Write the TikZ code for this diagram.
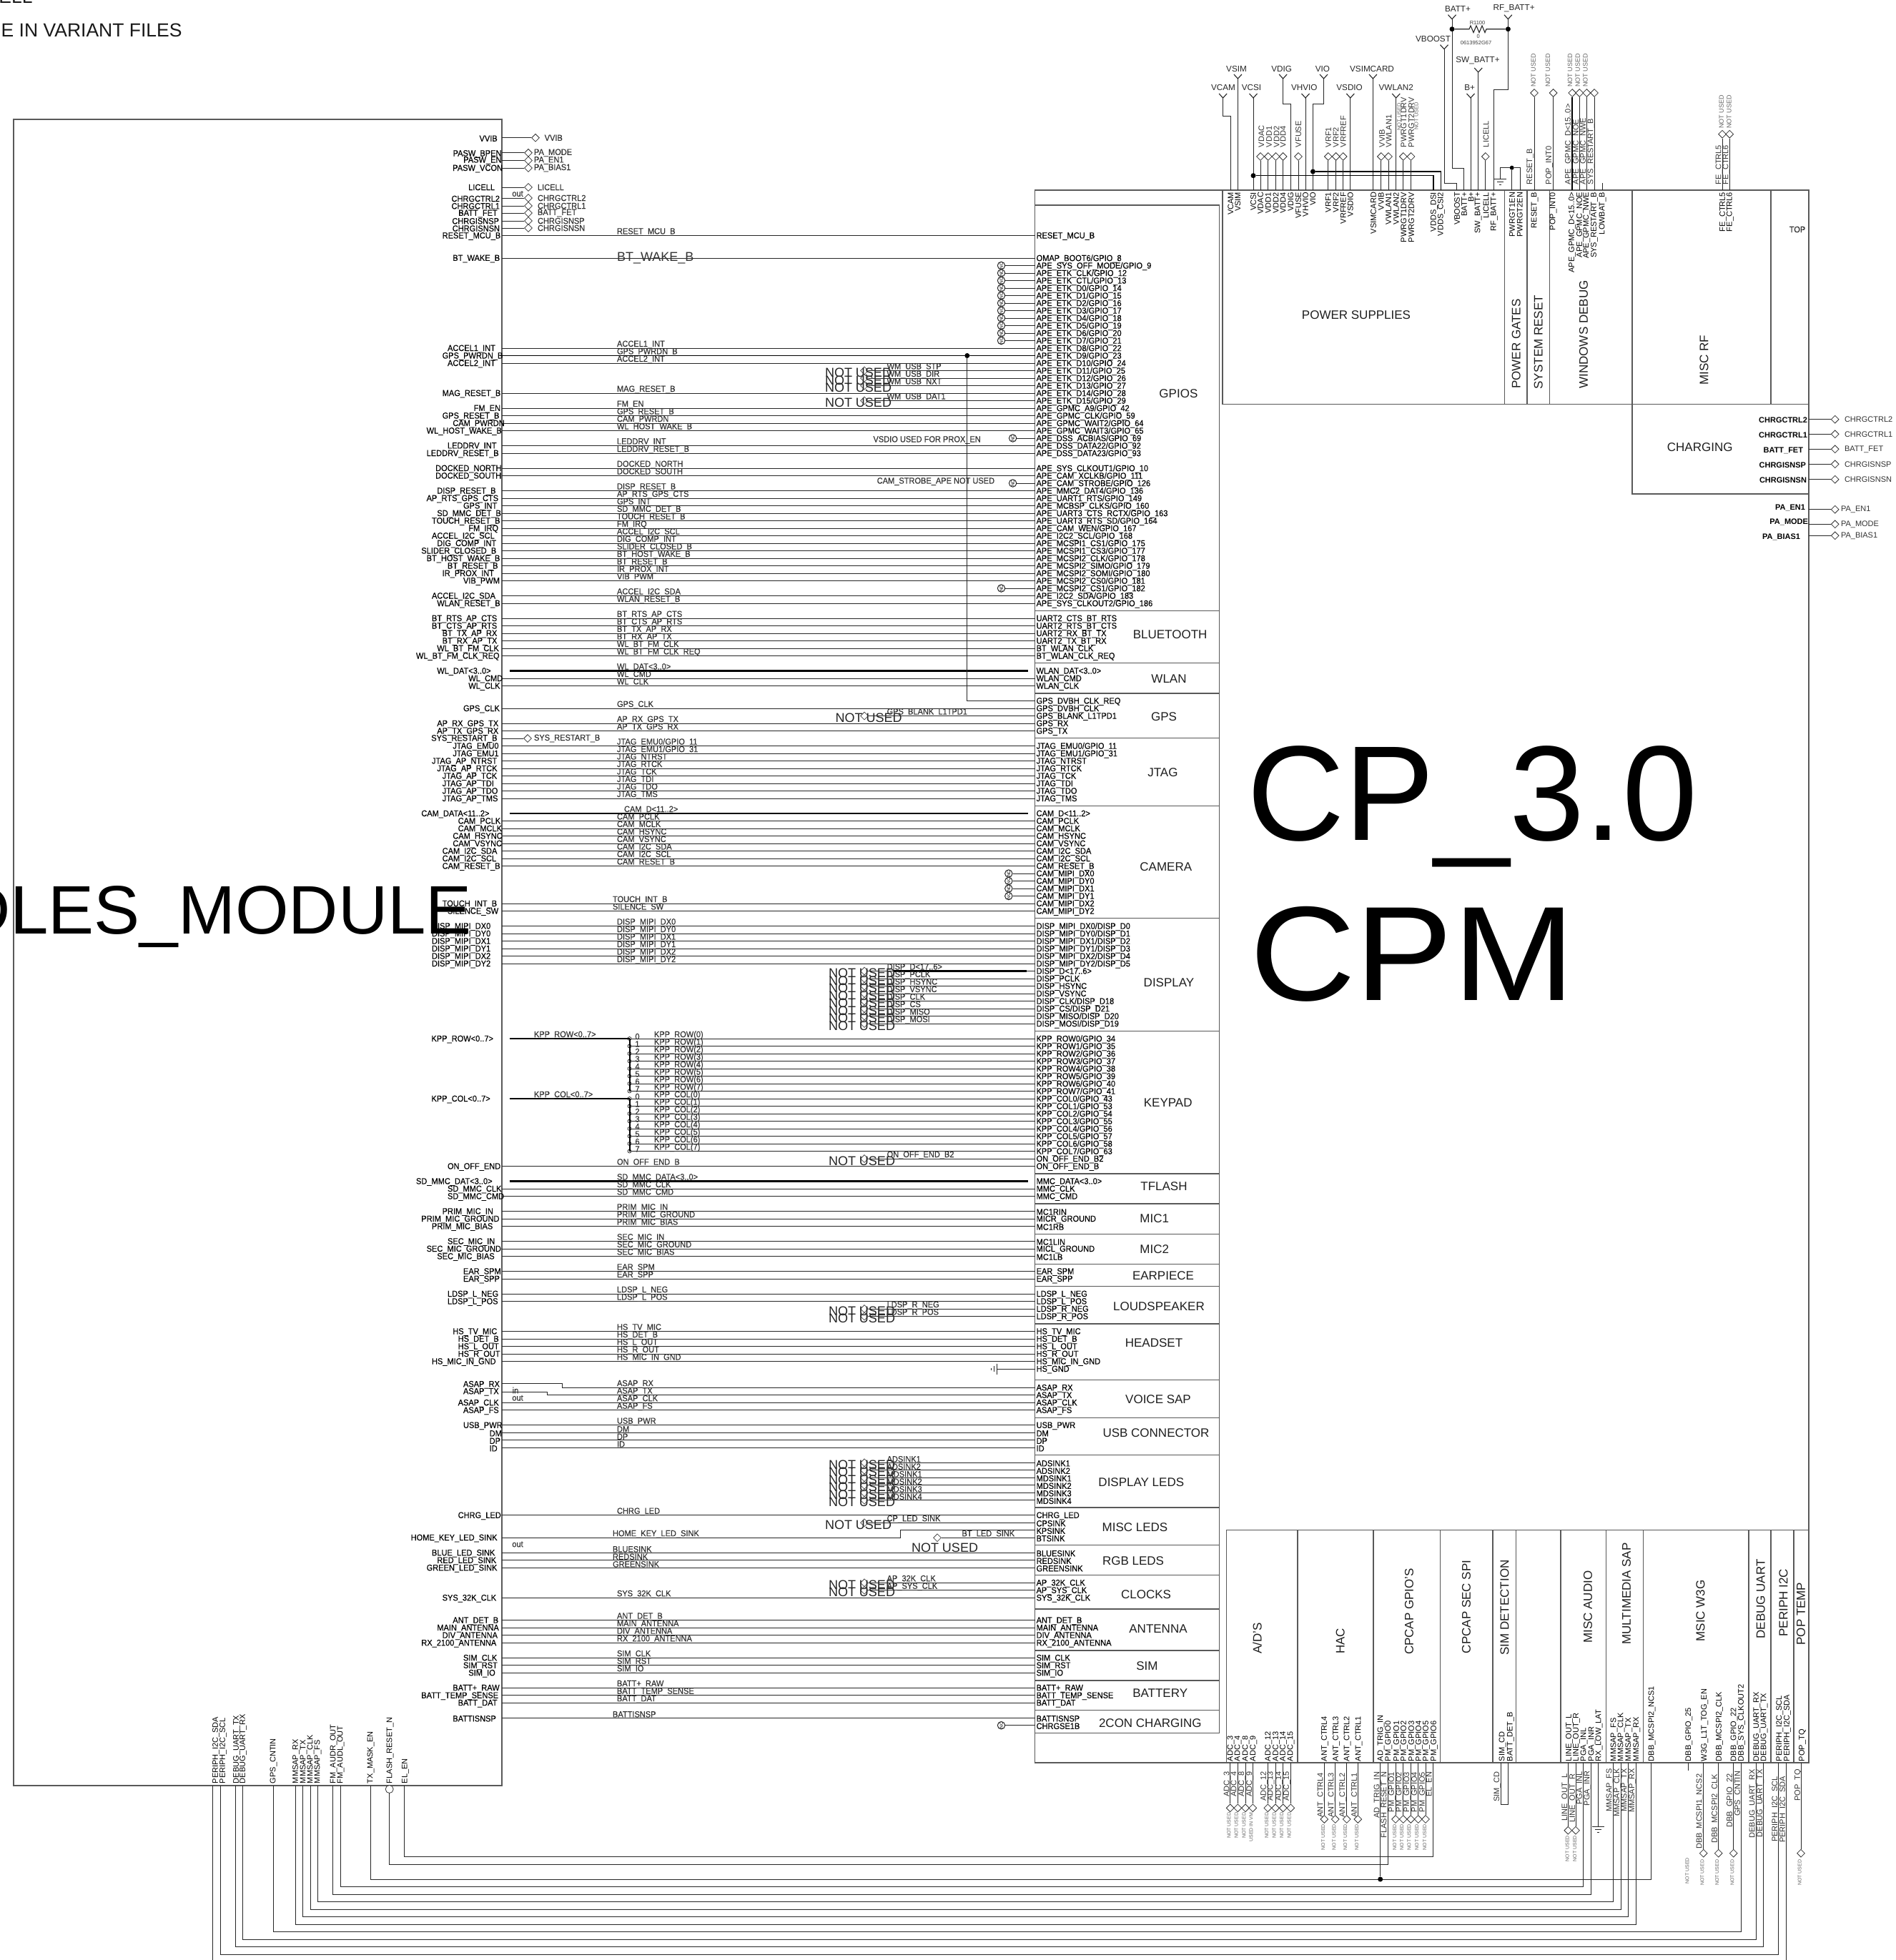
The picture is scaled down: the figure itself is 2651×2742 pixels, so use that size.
\documentclass[tikz,border=0pt]{standalone}
\usepackage{fontspec}
\setmainfont{Liberation Sans}
\newfontfamily\condf[FakeStretch=0.92,FakeBold=0.2]{Liberation Sans}
\usetikzlibrary{shapes.geometric}
\catcode`\_=12
\newcommand{\fsz}[1]{\fontsize{#1}{#1}\selectfont}
\newcount\rowctr
\newcommand{\nxt}{\global\advance\rowctr by 1\relax}
\tikzset{
 lab/.style={inner sep=0pt,outer sep=0pt,font=\condf\fsz{12},text=black},
 nlab/.style={lab,text=black!80},
 tiny/.style={lab,font=\fsz{7},text=black!60},
 nused/.style={lab,font=\fsz{18},text=black!85},
 sect/.style={lab,font=\fsz{17},text=black!88},
 wire/.style={line width=1pt,black!85},
 bus/.style={line width=2.6pt,black},
 box/.style={draw=black!65,line width=1.4pt},
 dia/.style={diamond,draw=black!80,line width=0.8pt,inner sep=0pt,minimum width=11pt,minimum height=11pt,aspect=1},
 ncs/.style={circle,draw=black!85,line width=1pt,inner sep=0pt,minimum size=10pt},
 dot/.style={circle,fill=black,inner sep=0pt,minimum size=7pt},
 kdot/.style={circle,draw=black,line width=0.6pt,inner sep=0pt,minimum size=5pt},
 vsym/.style={line width=1.1pt,black!85}
}
% row: [wire label x]{row}{left zoom x}{left}{wire label}{right}
\newcommand{\Rlab}[2]{\nxt\node[lab,anchor=west] (pr\the\rowctr) at (1449.6,#1+1) {#2};}
\newcommand{\Wr}[6][863]{\nxt
 \pgfmathsetmacro{\myY}{361+10.5*#2}\pgfmathsetmacro{\myX}{560+#3/1.3635}
 \coordinate (wa\the\rowctr) at (701.5,\myY);\coordinate (wb\the\rowctr) at (1447.5,\myY);
 \draw[wire] (wa\the\rowctr) -- (wb\the\rowctr);
 \node[lab,anchor=west] (pl\the\rowctr) at (\myX,\myY+1) {#4};
 \node[nlab,anchor=west] (pw\the\rowctr) at (#1,\myY-5) {#5};
 \Rlab{\myY}{#6}}
\newcommand{\Bu}[6][863]{\nxt
 \pgfmathsetmacro{\myY}{361+10.5*#2}\pgfmathsetmacro{\myX}{560+#3/1.3635}
 \coordinate (wa\the\rowctr) at (712.5,\myY);\coordinate (wb\the\rowctr) at (1438,\myY);
 \draw[bus] (wa\the\rowctr) -- (wb\the\rowctr);
 \node[lab,anchor=west] (pl\the\rowctr) at (\myX,\myY+1) {#4};
 \node[nlab,anchor=west] (pw\the\rowctr) at (#1,\myY-5) {#5};
 \Rlab{\myY}{#6}}
% not used row: [NOT USED x]{row}{wire label}{right}
\newcommand{\NU}[4][1159]{\nxt
 \pgfmathsetmacro{\myY}{361+10.5*#2}
 \node[dia,draw=black!70] (nd\the\rowctr) at (1209,\myY) {};
 \coordinate (wb\the\rowctr) at (1447.5,\myY);
 \draw[wire] (nd\the\rowctr) -- (wb\the\rowctr);
 \node[nused,anchor=west] (nu\the\rowctr) at (#1,\myY+3) {NOT USED};
 \node[nlab,anchor=west] (pw\the\rowctr) at (1240.6,\myY-5) {#3};
 \Rlab{\myY}{#4}}
\newcommand{\NC}[3]{\nxt
 \pgfmathsetmacro{\myY}{361+10.5*#1}
 \node[ncs] (nc\the\rowctr) at (#2,\myY) {\rotatebox{90}{\fsz{6.5}NC}};
 \coordinate (wb\the\rowctr) at (1447.5,\myY);
 \draw[wire] (nc\the\rowctr) -- (wb\the\rowctr);
 \Rlab{\myY}{#3}}
\newcommand{\Kp}[4]{\nxt
 \pgfmathsetmacro{\myY}{361+10.5*#1}
 \node[kdot] (kd\the\rowctr) at (880.5,\myY) {};
 \coordinate (wb\the\rowctr) at (1447.5,\myY);
 \draw[wire] (kd\the\rowctr) -- (wb\the\rowctr);
 \node[nlab,anchor=center] (kn\the\rowctr) at (891.5,\myY-3) {#2};
 \node[nlab,anchor=west] (pw\the\rowctr) at (915,\myY-5) {#3};
 \Rlab{\myY}{#4}}
% left diamond pin {left label right edge}{y label}{y wire}{label}{diamond x}{text x}{text}
\newcommand{\Ld}[7]{\nxt
 \node[lab,anchor=east] (ll\the\rowctr) at (#1,#2) {#4};
 \coordinate (la\the\rowctr) at (701.5,#3);
 \node[dia] (ld\the\rowctr) at (#5,#3) {};
 \draw[wire] (la\the\rowctr) -- (ld\the\rowctr);
 \node[nlab,anchor=west] (lt\the\rowctr) at (#6,#3) {#7};}
% right diamond pin {right edge}{y label}{y wire}{label}{text x}{text}
\newcommand{\Rd}[6]{\nxt
 \node[lab,anchor=east,font=\fsz{11}\bfseries] (ll\the\rowctr) at (#1,#2) {#4};
 \coordinate (la\the\rowctr) at (2529.5,#3);
 \node[dia] (ld\the\rowctr) at (2566.7,#3) {};
 \draw[wire] (la\the\rowctr) -- (ld\the\rowctr);
 \node[nlab,anchor=west,font=\fsz{11}] (lt\the\rowctr) at (#5,#3) {#6};}
% power symbol {name}{x}{y}{label x}{label y}{label}
\newcommand{\Pw}[6]{\nxt
 \draw[vsym] (#2-5.5,#3) -- (#2,#3+6) -- (#2+5.5,#3);
 \coordinate (#1) at (#2,#3+6);
 \node[lab,font=\fsz{11.7},text=black!85] (ps\the\rowctr) at (#4,#5) {#6};}
\newcommand{\Gn}[2]{
 \draw[wire] (#1-8.5,#2) -- (#1+8.5,#2) (#1-4.5,#2+4) -- (#1+4.5,#2+4) (#1-1.5,#2+8) -- (#1+1.5,#2+8);}
% bottom route {x left}{y}{x right}
\newcommand{\Br}[3]{\nxt
 \coordinate (ba\the\rowctr) at (#1,2498);\coordinate (bb\the\rowctr) at (#3,2466);
 \draw[wire] (ba\the\rowctr) -- (#1,#2) -- (#3,#2) -- (bb\the\rowctr);}
\begin{document}
\begin{tikzpicture}[x=1pt,y=-1pt]
\useasboundingbox (0,0) rectangle (2651,2742);
\clip (0,0) rectangle (2651,2742);
\fill[white] (0,0) rectangle (2651,2742);
% page texts
\node[lab,anchor=base east,font=\fsz{26.5},text=black!90] (tw) at (45.5,4.7) {WELL};
\node[lab,anchor=base east,font=\fsz{26.5},text=black!90] (tv) at (254.5,51.7) {E IN VARIANT FILES};
% boxes
\draw[box] (19,167) rectangle (702,2498);
\draw[box] (1447.5,266) rectangle (2530,2466);
\draw[box] (1447.5,287) -- (1705.5,287) -- (1705.5,2424.5) -- (1447.5,2424.5);
\foreach \s in {854.4,927.7,970,1032.7,1127.3,1284.7,1442.2,1642,1684,1726.2,1768.3,1799.7,1852,1930.4,1983.2,2035.7,2109,2161.6,2203.3,2251.1,2308.9,2351,2392.7}
 \draw[box] (1447.5,\s) -- (1705.5,\s);
\draw[box] (1710,266) -- (1710,565.5) -- (2530,565.5);
\foreach \s in {2104.3,2136,2167.3,2283,2477} \draw[box] (\s,266) -- (\s,565.5);
\draw[box] (2283,565.5) -- (2283,691) -- (2530,691);
\draw[box] (1715.4,2466) -- (1715.4,2140.5) -- (2530,2140.5);
\foreach \s in {1814.8,1920.8,2014.5,2088,2120.4,2183,2246.5,2298.4,2446,2477,2508.9} \draw[box] (\s,2140.5) -- (\s,2466);
% section titles
\foreach \x/\y/\t [count=\i] in {1648.4/551/GPIOS,1636.6/887.3/BLUETOOTH,1635/950/WLAN,1628/1003/GPS,1626.4/1081/JTAG,1630.8/1213/CAMERA,1635/1375/DISPLAY,1633.7/1542.9/KEYPAD,1628/1659.2/TFLASH,1614.7/1705/MIC1,1614.7/1747.6/MIC2,1627/1785/EARPIECE,1621/1827.2/LOUDSPEAKER,1614/1879/HEADSET,1620/1958/VOICE SAP,1617/2005/USB CONNECTOR,1596.3/2074/DISPLAY LEDS,1587.5/2136.7/MISC LEDS,1585/2183.8/RGB LEDS,1603/2230.8/CLOCKS,1620/2278.3/ANTENNA,1604.4/2331/SIM,1622.7/2368.2/BATTERY,1608.8/2410.3/2CON CHARGING,1897/441/POWER SUPPLIES,2377.7/626/CHARGING}
 \node[sect] (sh\i) at (\x,\y) {\t};
\foreach \x/\y/\t [count=\i] in {2120.7/481/POWER GATES,2151.7/478.7/SYSTEM RESET,2215/468/WINDOWS DEBUG,2383.5/503.6/MISC RF}
 \node[sect,rotate=90] (sv\i) at (\x,\y) {\t};
\node[sect,rotate=90] (sad) at (1758.6,2291.6) {A/D'S};
\foreach \x/\y/\t [count=\i] in {1874.7/2296/HAC,1971/2254.5/CPCAP GPIO'S,2051/2248/CPCAP SEC SPI,2104.5/2249/SIM DETECTION,2221/2248/MISC AUDIO,2275/2229.5/MULTIMEDIA SAP,2378.4/2253.3/MSIC W3G,2462.7/2237/DEBUG UART,2494.4/2242.4/PERIPH I2C,2519/2257.6/POP TEMP}
 \node[sect,rotate=90] (sw\i) at (\x,\y) {\t};
\node[lab,text=black!80] (stop) at (2514,321) {TOP};
% big titles
\node[lab,anchor=base east,font=\fsz{96},text=black] (bigl) at (660,1306) {DLES_MODULE};
\node[lab,anchor=base west,font=\fsz{189},text=black] (bigc) at (1744,1175) {CP_3.0};
\node[lab,anchor=base west,font=\fsz{188},text=black,xscale=1.09] (bigm) at (1748,1399) {CPM};
% left diamonds, upper
\Ld{695.7}{193.7}{192.8}{VVIB}{749}{761.7}{VVIB}
\Ld{701.5}{215.5}{213.8}{PASW_BPEN}{739}{747}{PA_MODE}
\Ld{701.5}{224.5}{224.5}{PASW_EN}{739}{747}{PA_EN1}
\Ld{703}{236}{235}{PASW_VCON}{739}{747}{PA_BIAS1}
\Ld{692}{262}{262}{LICELL}{739}{752}{LICELL}
\node[nlab] (oa) at (724,271) {out};
\Ld{699}{278}{277}{CHRGCTRL2}{739}{752}{CHRGCTRL2}
\Ld{699}{288.3}{288}{CHRGCTRL1}{739}{752}{CHRGCTRL1}
\Ld{695.7}{299}{298}{BATT_FET}{739}{752}{BATT_FET}
\Ld{698}{309.3}{309}{CHRGISNSP}{739}{752}{CHRGISNSP}
\Ld{699}{319.6}{319}{CHRGISNSN}{739}{752}{CHRGISNSN}
% GPIO block
\Wr{-3}{80}{RESET_MCU_B}{RESET_MCU_B}{RESET_MCU_B}
\Wr[863]{0}{100}{BT_WAKE_B}{}{OMAP_BOOT6/GPIO_8}
\node[nlab,anchor=west,font=\fsz{18}] (btw) at (863,361.5) {BT_WAKE_B};
\NC{1}{1400.5}{APE_SYS_OFF_MODE/GPIO_9}
\NC{2}{1400.5}{APE_ETK_CLK/GPIO_12}
\NC{3}{1400.5}{APE_ETK_CTL/GPIO_13}
\NC{4}{1400.5}{APE_ETK_D0/GPIO_14}
\NC{5}{1400.5}{APE_ETK_D1/GPIO_15}
\NC{6}{1400.5}{APE_ETK_D2/GPIO_16}
\NC{7}{1400.5}{APE_ETK_D3/GPIO_17}
\NC{8}{1400.5}{APE_ETK_D4/GPIO_18}
\NC{9}{1400.5}{APE_ETK_D5/GPIO_19}
\NC{10}{1400.5}{APE_ETK_D6/GPIO_20}
\NC{11}{1400.5}{APE_ETK_D7/GPIO_21}
\Wr{12}{90}{ACCEL1_INT}{ACCEL1_INT}{APE_ETK_D8/GPIO_22}
\Wr{13}{80}{GPS_PWRDN_B}{GPS_PWRDN_B}{APE_ETK_D9/GPIO_23}
\Wr{14}{90}{ACCEL2_INT}{ACCEL2_INT}{APE_ETK_D10/GPIO_24}
\NU[1154]{15}{WM_USB_STP}{APE_ETK_D11/GPIO_25}
\NU[1154]{16}{WM_USB_DIR}{APE_ETK_D12/GPIO_26}
\NU[1154]{17}{WM_USB_NXT}{APE_ETK_D13/GPIO_27}
\Wr{18}{80}{MAG_RESET_B}{MAG_RESET_B}{APE_ETK_D14/GPIO_28}
\NU[1154]{19}{WM_USB_DAT1}{APE_ETK_D15/GPIO_29}
\Wr{20}{140}{FM_EN}{FM_EN}{APE_GPMC_A9/GPIO_42}
\Wr{21}{80}{GPS_RESET_B}{GPS_RESET_B}{APE_GPMC_CLK/GPIO_59}
\Wr{22}{100}{CAM_PWRDN}{CAM_PWRDN}{APE_GPMC_WAIT2/GPIO_64}
\Wr{23}{50}{WL_HOST_WAKE_B}{WL_HOST_WAKE_B}{APE_GPMC_WAIT3/GPIO_65}
\NC{24}{1416.6}{APE_DSS_ACBIAS/GPIO_69}
\node[nlab,anchor=west] (vs) at (1221.5,615.5) {VSDIO USED FOR PROX_EN};
\Wr{25}{90}{LEDDRV_INT}{LEDDRV_INT}{APE_DSS_DATA22/GPIO_92}
\Wr{26}{50}{LEDDRV_RESET_B}{LEDDRV_RESET_B}{APE_DSS_DATA23/GPIO_93}
\Wr{28}{67}{DOCKED_NORTH}{DOCKED_NORTH}{APE_SYS_CLKOUT1/GPIO_10}
\Wr{29}{67}{DOCKED_SOUTH}{DOCKED_SOUTH}{APE_CAM_XCLKB/GPIO_111}
\NC{30}{1416.6}{APE_CAM_STROBE/GPIO_126}
\node[nlab,anchor=west] (cs) at (1226.7,673.6) {CAM_STROBE_APE NOT USED};
\Wr{31}{70}{DISP_RESET_B}{DISP_RESET_B}{APE_MMC2_DAT4/GPIO_136}
\Wr{32}{50}{AP_RTS_GPS_CTS}{AP_RTS_GPS_CTS}{APE_UART1_RTS/GPIO_149}
\Wr{33}{120}{GPS_INT}{GPS_INT}{APE_MCBSP_CLKS/GPIO_160}
\Wr{34}{70}{SD_MMC_DET_B}{SD_MMC_DET_B}{APE_UART3_CTS_RCTX/GPIO_163}
\Wr{35}{60}{TOUCH_RESET_B}{TOUCH_RESET_B}{APE_UART3_RTS_SD/GPIO_164}
\Wr{36}{130}{FM_IRQ}{FM_IRQ}{APE_CAM_WEN/GPIO_167}
\Wr{37}{60}{ACCEL_I2C_SCL}{ACCEL_I2C_SCL}{APE_I2C2_SCL/GPIO_168}
\Wr{38}{70}{DIG_COMP_INT}{DIG_COMP_INT}{APE_MCSPI1_CS1/GPIO_175}
\Wr{39}{40}{SLIDER_CLOSED_B}{SLIDER_CLOSED_B}{APE_MCSPI1_CS3/GPIO_177}
\Wr{40}{50}{BT_HOST_WAKE_B}{BT_HOST_WAKE_B}{APE_MCSPI2_CLK/GPIO_178}
\Wr{41}{90}{BT_RESET_B}{BT_RESET_B}{APE_MCSPI2_SIMO/GPIO_179}
\Wr{42}{80}{IR_PROX_INT}{IR_PROX_INT}{APE_MCSPI2_SOMI/GPIO_180}
\Wr{43}{120}{VIB_PWM}{VIB_PWM}{APE_MCSPI2_CS0/GPIO_181}
\NC{44}{1400.5}{APE_MCSPI2_CS1/GPIO_182}
\Wr{45}{60}{ACCEL_I2C_SDA}{ACCEL_I2C_SDA}{APE_I2C2_SDA/GPIO_183}
\Wr{46}{70}{WLAN_RESET_B}{WLAN_RESET_B}{APE_SYS_CLKOUT2/GPIO_186}
% bluetooth
\Wr{48}{60}{BT_RTS_AP_CTS}{BT_RTS_AP_CTS}{UART2_CTS_BT_RTS}
\Wr{49}{60}{BT_CTS_AP_RTS}{BT_CTS_AP_RTS}{UART2_RTS_BT_CTS}
\Wr{50}{80}{BT_TX_AP_RX}{BT_TX_AP_RX}{UART2_RX_BT_TX}
\Wr{51}{80}{BT_RX_AP_TX}{BT_RX_AP_TX}{UART2_TX_BT_RX}
\Wr{52}{70}{WL_BT_FM_CLK}{WL_BT_FM_CLK}{BT_WLAN_CLK}
\Wr{53}{30}{WL_BT_FM_CLK_REQ}{WL_BT_FM_CLK_REQ}{BT_WLAN_CLK_REQ}
% wlan
\Bu{55}{70}{WL_DAT<3..0>}{WL_DAT<3..0>}{WLAN_DAT<3..0>}
\Wr{56}{130}{WL_CMD}{WL_CMD}{WLAN_CMD}
\Wr{57}{130}{WL_CLK}{WL_CLK}{WLAN_CLK}
% gps
\Rlab{980.5}{GPS_DVBH_CLK_REQ}
\coordinate (gpa) at (701.5,497.5);
\coordinate (gpb) at (1447.5,980.5);
\node[dot] (gpd) at (1352.8,497.5) {};
\draw[line width=1.7pt,black] (gpa) -- (gpd) -- (1447.5,497.5);
\draw[wire] (gpd) -- (1352.8,980.5) -- (gpb);
\Wr{60}{120}{GPS_CLK}{GPS_CLK}{GPS_DVBH_CLK}
\NU[1168.7]{61}{GPS_BLANK_L1TPD1}{GPS_BLANK_L1TPD1}
\Wr{62}{70}{AP_RX_GPS_TX}{AP_RX_GPS_TX}{GPS_RX}
\Wr{63}{70}{AP_TX_GPS_RX}{AP_TX_GPS_RX}{GPS_TX}
\Ld{695.5}{1033.5}{1033}{SYS_RESTART_B}{738}{747}{SYS_RESTART_B}
% jtag
\Wr{65}{100}{JTAG_EMU0}{JTAG_EMU0/GPIO_11}{JTAG_EMU0/GPIO_11}
\Wr{66}{100}{JTAG_EMU1}{JTAG_EMU1/GPIO_31}{JTAG_EMU1/GPIO_31}
\Wr{67}{60}{JTAG_AP_NTRST}{JTAG_NTRST}{JTAG_NTRST}
\Wr{68}{70}{JTAG_AP_RTCK}{JTAG_RTCK}{JTAG_RTCK}
\Wr{69}{80}{JTAG_AP_TCK}{JTAG_TCK}{JTAG_TCK}
\Wr{70}{80}{JTAG_AP_TDI}{JTAG_TDI}{JTAG_TDI}
\Wr{71}{80}{JTAG_AP_TDO}{JTAG_TDO}{JTAG_TDO}
\Wr{72}{80}{JTAG_AP_TMS}{JTAG_TMS}{JTAG_TMS}
% camera
\Bu[873]{74}{40}{CAM_DATA<11..2>}{CAM_D<11..2>}{CAM_D<11..2>}
\Wr{75}{110}{CAM_PCLK}{CAM_PCLK}{CAM_PCLK}
\Wr{76}{110}{CAM_MCLK}{CAM_MCLK}{CAM_MCLK}
\Wr{77}{100}{CAM_HSYNC}{CAM_HSYNC}{CAM_HSYNC}
\Wr{78}{100}{CAM_VSYNC}{CAM_VSYNC}{CAM_VSYNC}
\Wr{79}{80}{CAM_I2C_SDA}{CAM_I2C_SDA}{CAM_I2C_SDA}
\Wr{80}{80}{CAM_I2C_SCL}{CAM_I2C_SCL}{CAM_I2C_SCL}
\Wr{81}{80}{CAM_RESET_B}{CAM_RESET_B}{CAM_RESET_B}
\NC{82}{1410.8}{CAM_MIPI_DX0}
\NC{83}{1410.8}{CAM_MIPI_DY0}
\NC{84}{1410.8}{CAM_MIPI_DX1}
\NC{85}{1410.8}{CAM_MIPI_DY1}
\Wr[857]{86}{80}{TOUCH_INT_B}{TOUCH_INT_B}{CAM_MIPI_DX2}
\Wr[857]{87}{90}{SILENCE_SW}{SILENCE_SW}{CAM_MIPI_DY2}
% display
\Wr{89}{60}{DISP_MIPI_DX0}{DISP_MIPI_DX0}{DISP_MIPI_DX0/DISP_D0}
\Wr{90}{60}{DISP_MIPI_DY0}{DISP_MIPI_DY0}{DISP_MIPI_DY0/DISP_D1}
\Wr{91}{60}{DISP_MIPI_DX1}{DISP_MIPI_DX1}{DISP_MIPI_DX1/DISP_D2}
\Wr{92}{60}{DISP_MIPI_DY1}{DISP_MIPI_DY1}{DISP_MIPI_DY1/DISP_D3}
\Wr{93}{60}{DISP_MIPI_DX2}{DISP_MIPI_DX2}{DISP_MIPI_DX2/DISP_D4}
\Wr{94}{60}{DISP_MIPI_DY2}{DISP_MIPI_DY2}{DISP_MIPI_DY2/DISP_D5}
\NU{95}{DISP_D<17..6>}{DISP_D<17..6>}
\coordinate (dda) at (1250,1358.5);\coordinate (ddb) at (1436,1358.5);
\draw[bus] (dda) -- (ddb);
\NU{96}{DISP_PCLK}{DISP_PCLK}
\NU{97}{DISP_HSYNC}{DISP_HSYNC}
\NU{98}{DISP_VSYNC}{DISP_VSYNC}
\NU{99}{DISP_CLK}{DISP_CLK/DISP_D18}
\NU{100}{DISP_CS}{DISP_CS/DISP_D21}
\NU{101}{DISP_MISO}{DISP_MISO/DISP_D20}
\NU{102}{DISP_MOSI}{DISP_MOSI/DISP_D19}
% keypad
\coordinate (ka) at (712.5,1453);\coordinate (kb) at (880.5,1453);\coordinate (kc) at (880.5,1526.5);
\coordinate (kd) at (712.5,1537);\coordinate (ke) at (880.5,1537);\coordinate (kf) at (880.5,1610.5);
\draw[bus] (ka) -- (kb);\draw[bus] (kd) -- (ke);
\draw[line width=2pt,black] (kb) -- (kc) (ke) -- (kf);
\node[lab,anchor=west] (kl1) at (603.5,1454) {KPP_ROW<0..7>};
\node[lab,anchor=west] (kl2) at (603.5,1538) {KPP_COL<0..7>};
\node[nlab,anchor=west] (kl3) at (747,1448) {KPP_ROW<0..7>};
\node[nlab,anchor=west] (kl4) at (747,1532) {KPP_COL<0..7>};
\Kp{104}{0}{KPP_ROW(0)}{KPP_ROW0/GPIO_34}
\Kp{105}{1}{KPP_ROW(1)}{KPP_ROW1/GPIO_35}
\Kp{106}{2}{KPP_ROW(2)}{KPP_ROW2/GPIO_36}
\Kp{107}{3}{KPP_ROW(3)}{KPP_ROW3/GPIO_37}
\Kp{108}{4}{KPP_ROW(4)}{KPP_ROW4/GPIO_38}
\Kp{109}{5}{KPP_ROW(5)}{KPP_ROW5/GPIO_39}
\Kp{110}{6}{KPP_ROW(6)}{KPP_ROW6/GPIO_40}
\Kp{111}{7}{KPP_ROW(7)}{KPP_ROW7/GPIO_41}
\Kp{112}{0}{KPP_COL(0)}{KPP_COL0/GPIO_43}
\Kp{113}{1}{KPP_COL(1)}{KPP_COL1/GPIO_53}
\Kp{114}{2}{KPP_COL(2)}{KPP_COL2/GPIO_54}
\Kp{115}{3}{KPP_COL(3)}{KPP_COL3/GPIO_55}
\Kp{116}{4}{KPP_COL(4)}{KPP_COL4/GPIO_56}
\Kp{117}{5}{KPP_COL(5)}{KPP_COL5/GPIO_57}
\Kp{118}{6}{KPP_COL(6)}{KPP_COL6/GPIO_58}
\Kp{119}{7}{KPP_COL(7)}{KPP_COL7/GPIO_63}
\NU{120}{ON_OFF_END_B2}{ON_OFF_END_B2}
\Wr{121}{90}{ON_OFF_END}{ON_OFF_END_B}{ON_OFF_END_B}
% tflash and audio
\Bu{123}{30}{SD_MMC_DAT<3..0>}{SD_MMC_DATA<3..0>}{MMC_DATA<3..0>}
\Wr{124}{90}{SD_MMC_CLK}{SD_MMC_CLK}{MMC_CLK}
\Wr{125}{90}{SD_MMC_CMD}{SD_MMC_CMD}{MMC_CMD}
\Wr{127}{80}{PRIM_MIC_IN}{PRIM_MIC_IN}{MC1RIN}
\Wr{128}{40}{PRIM_MIC_GROUND}{PRIM_MIC_GROUND}{MICR_GROUND}
\Wr{129}{60}{PRIM_MIC_BIAS}{PRIM_MIC_BIAS}{MC1RB}
\Wr{131}{90}{SEC_MIC_IN}{SEC_MIC_IN}{MC1LIN}
\Wr{132}{50}{SEC_MIC_GROUND}{SEC_MIC_GROUND}{MICL_GROUND}
\Wr{133}{70}{SEC_MIC_BIAS}{SEC_MIC_BIAS}{MC1LB}
\Wr{135}{120}{EAR_SPM}{EAR_SPM}{EAR_SPM}
\Wr{136}{120}{EAR_SPP}{EAR_SPP}{EAR_SPP}
\Wr{138}{90}{LDSP_L_NEG}{LDSP_L_NEG}{LDSP_L_NEG}
\Wr{139}{90}{LDSP_L_POS}{LDSP_L_POS}{LDSP_L_POS}
\NU{140}{LDSP_R_NEG}{LDSP_R_NEG}
\NU{141}{LDSP_R_POS}{LDSP_R_POS}
\Wr{143}{100}{HS_TV_MIC}{HS_TV_MIC}{HS_TV_MIC}
\Wr{144}{110}{HS_DET_B}{HS_DET_B}{HS_DET_B}
\Wr{145}{110}{HS_L_OUT}{HS_L_OUT}{HS_L_OUT}
\Wr{146}{110}{HS_R_OUT}{HS_R_OUT}{HS_R_OUT}
\Wr{147}{60}{HS_MIC_IN_GND}{HS_MIC_IN_GND}{HS_MIC_IN_GND}
\Rlab{1915}{HS_GND}
\coordinate (hga) at (1394.6,1915);\coordinate (hgb) at (1447.5,1915);
\draw[wire] (hga) -- (hgb);
\draw[wire] (1394.6,1907.5) -- (1394.6,1922.5) (1390,1911) -- (1390,1919) (1386,1913.5) -- (1386,1916.5);
% voice sap
\node[lab,anchor=west] (aa) at (648,1937.3) {ASAP_RX};
\node[lab,anchor=west] (ab) at (648,1947.3) {ASAP_TX};
\coordinate (ara) at (701.5,1935.8);\coordinate (arb) at (1447.5,1941.25);
\coordinate (ata) at (701.5,1947);\coordinate (atb) at (1447.5,1951.75);
\draw[wire] (ara) -- (786.6,1935.8) -- (786.6,1941.25) -- (arb);
\draw[wire] (ata) -- (765.4,1947) -- (765.4,1951.75) -- (atb);
\node[nlab,anchor=west] (wa1) at (863,1936.2) {ASAP_RX};
\node[nlab,anchor=west] (wa2) at (863,1946.7) {ASAP_TX};
\Rlab{1941.25}{ASAP_RX}
\Rlab{1951.75}{ASAP_TX}
\node[nlab] (ai) at (721,1945) {in};
\node[nlab] (ao) at (724,1955.7) {out};
\Wr{152.5}{110}{ASAP_CLK}{ASAP_CLK}{ASAP_CLK}
\Wr{153.5}{120}{ASAP_FS}{ASAP_FS}{ASAP_FS}
\Wr{155.5}{120}{USB_PWR}{USB_PWR}{USB_PWR}
\Wr{156.5}{170}{DM}{DM}{DM}
\Wr{157.5}{170}{DP}{DP}{DP}
\Wr{158.5}{170}{ID}{ID}{ID}
\NU{160.5}{ADSINK1}{ADSINK1}
\NU{161.5}{ADSINK2}{ADSINK2}
\NU{162.5}{MDSINK1}{MDSINK1}
\NU{163.5}{MDSINK2}{MDSINK2}
\NU{164.5}{MDSINK3}{MDSINK3}
\NU{165.5}{MDSINK4}{MDSINK4}
\Wr{167.5}{110}{CHRG_LED}{CHRG_LED}{CHRG_LED}
\NU[1154]{168.5}{CP_LED_SINK}{CPSINK}
% home key / bt sink
\node[lab,anchor=west] (hk) at (574.7,2152) {HOME_KEY_LED_SINK};
\node[nlab,anchor=west] (hkw) at (857,2146.2) {HOME_KEY_LED_SINK};
\coordinate (hka) at (701.5,2151.25);\coordinate (hkb) at (1447.5,2140.75);
\draw[wire] (hka) -- (1259,2151.25) -- (1259,2140.75) -- (hkb);
\Rlab{2140.75}{KPSINK}
\node[dia,draw=black!70] (btd) at (1311,2151.25) {};
\coordinate (btb) at (1447.5,2151.25);
\draw[wire] (btd) -- (btb);
\Rlab{2151.25}{BTSINK}
\node[nlab,anchor=west] (btl) at (1345.5,2146.3) {BT_LED_SINK};
\node[nused,anchor=west] (btn) at (1275,2165) {NOT USED};
\node[nlab] (aoo) at (724,2160.4) {out};
\Wr[857]{172.5}{60}{BLUE_LED_SINK}{BLUESINK}{BLUESINK}
\Wr[857]{173.5}{70}{RED_LED_SINK}{REDSINK}{REDSINK}
\Wr[857]{174.5}{50}{GREEN_LED_SINK}{GREENSINK}{GREENSINK}
\NU{176.5}{AP_32K_CLK}{AP_32K_CLK}
\NU{177.5}{AP_SYS_CLK}{AP_SYS_CLK}
\Wr{178.5}{80}{SYS_32K_CLK}{SYS_32K_CLK}{SYS_32K_CLK}
\Wr{181.5}{100}{ANT_DET_B}{ANT_DET_B}{ANT_DET_B}
\Wr{182.5}{70}{MAIN_ANTENNA}{MAIN_ANTENNA}{MAIN_ANTENNA}
\Wr{183.5}{80}{DIV_ANTENNA}{DIV_ANTENNA}{DIV_ANTENNA}
\Wr{184.5}{40}{RX_2100_ANTENNA}{RX_2100_ANTENNA}{RX_2100_ANTENNA}
\Wr{186.5}{120}{SIM_CLK}{SIM_CLK}{SIM_CLK}
\Wr{187.5}{120}{SIM_RST}{SIM_RST}{SIM_RST}
\Wr{188.5}{130}{SIM_IO}{SIM_IO}{SIM_IO}
\Wr{190.5}{100}{BATT+_RAW}{BATT+_RAW}{BATT+_RAW}
\Wr{191.5}{40}{BATT_TEMP_SENSE}{BATT_TEMP_SENSE}{BATT_TEMP_SENSE}
\Wr{192.5}{110}{BATT_DAT}{BATT_DAT}{BATT_DAT}
\Wr[857]{194.5}{100}{BATTISNSP}{BATTISNSP}{BATTISNSP}
\NC{195.5}{1400.5}{CHRGSE1B}
% right side diamonds
\Rd{2528}{587.3}{586.7}{CHRGCTRL2}{2580}{CHRGCTRL2}
\Rd{2528}{609}{607.3}{CHRGCTRL1}{2580}{CHRGCTRL1}
\Rd{2522}{630}{628.3}{BATT_FET}{2580}{BATT_FET}
\Rd{2526}{651}{649.3}{CHRGISNSP}{2580}{CHRGISNSP}
\Rd{2527}{672}{670.7}{CHRGISNSN}{2580}{CHRGISNSN}
\Rd{2525}{710}{712.7}{PA_EN1}{2575}{PA_EN1}
\Rd{2529}{730}{733.3}{PA_MODE}{2575}{PA_MODE}
\Rd{2518}{751}{749.3}{PA_BIAS1}{2575}{PA_BIAS1}
% top power rails
\Pw{vcam}{1710.6}{131}{1711}{122}{VCAM}
\Pw{vsim}{1731.4}{104}{1729.5}{96}{VSIM}
\Pw{vcsi}{1753}{131}{1750.4}{122}{VCSI}
\Pw{vdig}{1794.6}{104}{1792.7}{96}{VDIG}
\Pw{vhvio}{1826}{131}{1824.3}{122}{VHVIO}
\Pw{vio}{1851.5}{104}{1850}{96}{VIO}
\Pw{vsdio}{1888.8}{131}{1887.6}{122}{VSDIO}
\Pw{vsimc}{1920.4}{104}{1919}{96}{VSIMCARD}
\Pw{vwl}{1952.7}{131}{1952.7}{122}{VWLAN2}
\Pw{vboost}{2020}{62.7}{2004.5}{54}{VBOOST}
\Pw{batt}{2031}{20.7}{2039}{12}{BATT+}
\Pw{rfbatt}{2109.4}{20.7}{2117.6}{12}{RF_BATT+}
\Pw{swb}{2067.7}{95}{2067}{85}{SW_BATT+}
\Pw{bplus}{2057}{131}{2055.7}{122}{B+}
\draw[wire] (vcam) -- (1710.6,162) -- (1721.3,162) -- (1721.3,266);
\draw[wire] (vsim) -- (1731.4,266);
\draw[wire] (vcsi) -- (1753,266);
\draw[wire] (vdig) -- (1794.6,145.7) -- (1805.4,145.7) -- (1805.4,266);
\draw[wire] (vhvio) -- (1826,266);
\draw[wire] (vio) -- (1851.5,145.7) -- (1836.4,145.7) -- (1836.4,266);
\draw[wire] (vsdio) -- (1888.8,266);
\draw[wire] (vsimc) -- (1920.4,266);
\draw[wire] (vwl) -- (1952.7,266);
\draw[wire] (vboost) -- (2020,256) -- (2037.4,256) -- (2037.4,266);
\draw[wire] (batt) -- (2031,235) -- (2047.5,235) -- (2047.5,266);
\draw[wire] (rfbatt) -- (2109.4,125) -- (2089.2,125) -- (2089.2,266);
\draw[wire] (swb) -- (2067.7,266);
\draw[wire] (bplus) -- (2057,266);
\node[dot] (d1) at (1753,245.7) {};
\node[dot] (d2) at (1836.4,240) {};
\draw[line width=1.2pt,black] (d1) -- (2005,245.7) -- (2005,266);
\draw[line width=1.2pt,black] (d2) -- (2015.2,240) -- (2015.2,266);
% resistor
\node[dot] (r1) at (2031,40.7) {};
\node[dot] (r2) at (2109.4,40.7) {};
\draw[line width=1.1pt,black!85] (r1) -- (2055,40.7) -- (2057,36) -- (2061,45.5) -- (2065,36) -- (2069,45.5) -- (2073,36) -- (2077,45.5) -- (2079,40.7) -- (r2);
\node[lab,font=\fsz{7.5},text=black!75] (rn) at (2066.5,32.3) {R1100};
\node[lab,font=\fsz{7.5},text=black!75] (rv) at (2067.7,50.7) {0};
\node[lab,font=\fsz{7.5},text=black!75] (rp) at (2064.5,60.3) {0613952G67};
% power gate ground
\node[dot,minimum size=6pt] (d3) at (2114.7,234.7) {};
\coordinate (pg) at (2126,266);\coordinate (ph) at (2114.7,266);\coordinate (gt) at (2098.3,250);
\draw[wire] (pg) -- (2126,234.7) -- (d3) -- (2098.3,234.7) -- (gt);
\draw[wire] (d3) -- (ph);
\Gn{2098.3}{250}
\coordinate (lb) at (2241,256);\coordinate (lc) at (2241,266);
\draw[wire] (lb) -- (lc);
% top diamonds
\foreach \x [count=\i] in {1763,1773.8,1784.5,1794.6,1816,1857.8,1868.6,1878.7,1931.8,1942,1962.8,1973.5,2077.8}
 {\node[dia] (da\i) at (\x,219) {};\coordinate (daa\i) at (\x,266);\draw[wire] (da\i) -- (daa\i);}
\foreach \x [count=\i] in {2146,2172.6,2209.3,2219.4,2230}
 {\node[dia] (db\i) at (\x,130) {};\coordinate (dbb\i) at (\x,266);\draw[wire] (db\i) -- (dbb\i);}
\node[dia] (dbus) at (2199.2,130) {};\coordinate (dbc) at (2199.2,266);\draw[line width=1.6pt,black] (dbus) -- (dbc);
\foreach \x [count=\i] in {2409,2419.2}
 {\node[dia] (dc\i) at (\x,187.7) {};\coordinate (dcc\i) at (\x,266);\draw[wire] (dc\i) -- (dcc\i);}
% labels above the diamonds
\foreach \x/\t [count=\i] in {1764.3/VDAC,1775/VDD1,1785.5/VDD2,1794.6/VDD4,1816/VFUSE,1858/VRF1,1868.6/VRF2,1878.7/VRFREF,1933/VVIB,1942.5/VWLAN1,1963.4/PWRGT1DRV,1974/PWRGT2DRV,2078.5/LICELL}
 \node[nlab,font=\fsz{11},rotate=90,anchor=west] (ua\i) at (\x,206) {\t};
\foreach \x/\t [count=\i] in {2140.4/RESET_B,2167/POP_INT0,2194/APE_GPMC_D<15..0>,2205/APE_GPMC_NOE,2215/APE_GPMC_NWE,2225.7/SYS_RESTART_B,2404.6/FE_CTRL5,2414.7/FE_CTRL6}
 \node[nlab,font=\fsz{11},rotate=90,anchor=west] (ub\i) at (\x,258) {\t};
\foreach \x/\y/\s [count=\i] in {2144.8/75/9,2165/75/9,2196/75/9,2206.8/75/9,2217.5/75/9,2407.8/133/9,2418.5/133/9,1957/144/7.5,1981/143/7.5}
 \node[tiny,font=\fsz{\s},rotate=90,anchor=east] (uc\i) at (\x,\y) {NOT USED};
% inner labels, top edge
\foreach \x/\t [count=\i] in {1721.3/VCAM,1731.4/VSIM,1753/VCSI,1763/VDAC,1773.8/VDD1,1784.5/VDD2,1794.6/VDD4,1805.4/VDIG,1816/VFUSE,1826/VHVIO,1836.4/VIO,1857.8/VRF1,1868.6/VRF2,1878.7/VRFREF,1888.8/VSDIO,1921/VSIMCARD,1931.8/VVIB,1942/VWLAN1,1952.7/VWLAN2,1963.4/PWRGT1DRV,1974/PWRGT2DRV,2005.8/VDDS_DSI,2015.9/VDDS_CSI2,2038/VBOOST,2048/BATT+,2057.6/B+,2067.7/SW_BATT+,2078.5/LICELL,2089.8/RF_BATT+,2115/PWRGT1EN,2125.9/PWRGT2EN,2146.7/RESET_B,2172.7/POP_INT0,2199/APE_GPMC_D<15..0>,2210/APE_GPMC_NOE,2219.4/APE_GPMC_NWE,2230/SYS_RESTART_B,2241.5/LOWBAT_B,2410/FE_CTRL5,2419.8/FE_CTRL6}
 \node[lab,font=\fsz{11},rotate=90,anchor=east] (ti\i) at (\x,269) {\t};
% inner labels, bottom edge
\foreach \x/\t [count=\i] in {1721.7/ADC_3,1731.7/ADC_4,1742.7/ADC_8,1753.3/ADC_9,1774.3/ADC_12,1785/ADC_13,1795/ADC_14,1805.7/ADC_15,1853/ANT_CTRL4,1869/ANT_CTRL3,1884.7/ANT_CTRL2,1900.6/ANT_CTRL1,1931.6/AD_TRIG_IN,1942.4/PM_GPIO0,1954/PM_GPIO1,1964/PM_GPIO2,1975/PM_GPIO3,1985/PM_GPIO4,1995/PM_GPIO5,2006/PM_GPIO6,2101.7/SIM_CD,2113/BATT_DET_B,2195/LINE_OUT_L,2205/LINE_OUT_R,2215.7/PGA_INL,2226.7/PGA_INR,2236.7/RX_LOW_LAT,2257.7/MMSAP_FS,2267.7/MMSAP_CLK,2278.3/MMSAP_TX,2289.3/MMSAP_RX,2310.7/DBB_MCSPI2_NCS1,2362.3/DBB_GPIO_25,2384.3/W3G_L1T_TOG_EN,2405/DBB_MCSPI2_CLK,2425.7/DBB_GPIO_22,2436/DBB_SYS_CLKOUT2,2457.3/DEBUG_UART_RX,2467.7/DEBUG_UART_TX,2489.3/PERIPH_I2C_SCL,2500/PERIPH_I2C_SDA,2521/POP_TQ}
 \node[lab,font=\fsz{11},rotate=90,anchor=west] (bi\i) at (\x,2464) {\t};
% bottom stubs with diamonds
\foreach \x [count=\i] in {1720.7,1731.3,1742,1752.3,1773.3,1784,1794.7,1805.3}
 {\node[dia] (ea\i) at (\x,2529.3) {};\coordinate (eaa\i) at (\x,2466);\draw[wire] (eaa\i) -- (ea\i);}
\foreach \x [count=\i] in {1852.3,1867.7,1883.7,1899.3,1952,1962.7,1973.3,1983.7,1994}
 {\node[dia] (eb\i) at (\x,2545) {};\coordinate (ebb\i) at (\x,2466);\draw[wire] (ebb\i) -- (eb\i);}
\foreach \x [count=\i] in {2193.3,2204}
 {\node[dia] (ec\i) at (\x,2560.7) {};\coordinate (ecc\i) at (\x,2466);\draw[wire] (ecc\i) -- (ec\i);}
\foreach \x [count=\i] in {2382.7,2403.7,2424.7,2519}
 {\node[dia] (ed\i) at (\x,2592.7) {};\coordinate (edd\i) at (\x,2466);\draw[wire] (edd\i) -- (ed\i);}
% tiny NOT USED, bottom
\foreach \x/\y/\t [count=\i] in {1719/2535.7/NOT USED,1729.3/2535.7/NOT USED,1740/2535.7/NOT USED,1750/2535.7/USED IN VM,1771.7/2535.7/NOT USED,1782.3/2535.7/NOT USED,1792.7/2535.7/NOT USED,1803.3/2535.7/NOT USED,1850.7/2552/NOT USED,1866/2552/NOT USED,1881.7/2552/NOT USED,1897.7/2552/NOT USED,1950.7/2552/NOT USED,1960.7/2552/NOT USED,1971/2552/NOT USED,1981.7/2552/NOT USED,1992.7/2552/NOT USED,2192.3/2568/NOT USED,2202.7/2568/NOT USED,2360/2599/NOT USED,2381/2601.7/NOT USED,2401.7/2601.7/NOT USED,2423/2601.7/NOT USED,2517.3/2601.7/NOT USED}
 \node[tiny,rotate=90,anchor=east] (nb\i) at (\x,\y) {\t};
% outer labels, bottom
\foreach \x/\y/\t [count=\i] in {1716.7/2478/ADC_3,1726.7/2478/ADC_4,1737.3/2478/ADC_8,1748.3/2478/ADC_9,1768/2478/ADC_12,1777.7/2478/ADC_13,1789/2478/ADC_14,1800/2478/ADC_15,1847.7/2480/ANT_CTRL4,1862.7/2480/ANT_CTRL3,1878.3/2480/ANT_CTRL2,1895/2480/ANT_CTRL1,1926.7/2479/AD_TRIG_IN,1936.7/2479/FLASH_RESET_N,1947/2479/PM_GPIO1,1957.7/2479/PM_GPIO2,1968.3/2479/PM_GPIO3,1979/2479/PM_GPIO4,1990/2479/PM_GPIO5,2000/2479/EL_EN,2094.3/2479/SIM_CD,2189.3/2481.7/LINE_OUT_L,2200/2481.7/LINE_OUT_R,2210/2478/PGA_INL,2220.7/2478/PGA_INR,2251.7/2474/MMSAP_FS,2262.3/2474/MMSAP_CLK,2272.7/2474/MMSAP_TX,2283.3/2474/MMSAP_RX,2377.7/2481.7/DBB_MCSPI1_NCS2,2399/2481.7/DBB_MCSPI2_CLK,2420/2481.7/DBB_GPIO_22,2431/2478/GPS_CNTIN,2451.7/2475/DEBUG_UART_RX,2462.3/2475/DEBUG_UART_TX,2483.3/2485/PERIPH_I2C_SCL,2494/2485/PERIPH_I2C_SDA,2515/2475/POP_TQ}
 \node[nlab,font=\fsz{11},rotate=90,anchor=east] (bo\i) at (\x,\y) {\t};
% SIM U loop
\coordinate (sa) at (2099,2466);\coordinate (sb) at (2109.3,2466);
\draw[wire] (sa) -- (2099,2524) -- (2109.3,2524) -- (sb);
% RX low lat ground, stub
\coordinate (ra) at (2235.7,2466);\coordinate (rb) at (2235.7,2555);
\draw[wire] (ra) -- (rb);
\Gn{2235.7}{2555}
\coordinate (sc) at (2361.7,2466);\coordinate (sd) at (2361.7,2476.7);
\draw[wire] (sc) -- (sd);
% bottom routes
\Br{565.4}{2597.3}{2004.7}
\Br{544.7}{2608}{1941.7}
\Br{518.7}{2629}{2309}
\Br{476.6}{2639.5}{2214.7}
\Br{465.9}{2650}{2225.3}
\Br{444.5}{2660.5}{2256.7}
\Br{434.5}{2671}{2267.3}
\Br{423.8}{2681.7}{2277.7}
\Br{413.9}{2692.3}{2288.3}
\Br{382.5}{2702.5}{2435}
\Br{339.6}{2713}{2456}
\Br{329}{2723.5}{2466.7}
\Br{308.3}{2734}{2487.7}
\coordinate (za) at (297.5,2498);\coordinate (zb) at (297.5,2742);
\coordinate (zc) at (2498.3,2466);\coordinate (zd) at (2498.3,2742);
\draw[wire] (za) -- (zb);\draw[wire] (zc) -- (zd);
\node[circle,draw=black!80,fill=white,line width=0.8pt,inner sep=0pt,minimum size=11pt] (fl) at (544.7,2503) {};
\coordinate (ta) at (1930.7,2466);
\node[dot] (td) at (1930.7,2629) {};
\draw[wire] (ta) -- (td);
% left box bottom labels
\foreach \x/\t [count=\i] in {302/PERIPH_I2C_SDA,312/PERIPH_I2C_SCL,331/DEBUG_UART_TX,340/DEBUG_UART_RX,382.5/GPS_CNTIN,414/MMSAP_RX,424.6/MMSAP_TX,434.5/MMSAP_CLK,444.5/MMSAP_FS,466.7/FM_AUDR_OUT,476.6/FM_AUDL_OUT,518.7/TX_MASK_EN,545.5/FLASH_RESET_N,567/EL_EN}
 \node[lab,font=\fsz{11},rotate=90,anchor=west] (lb\i) at (\x,2495) {\t};
\end{tikzpicture}
\end{document}
